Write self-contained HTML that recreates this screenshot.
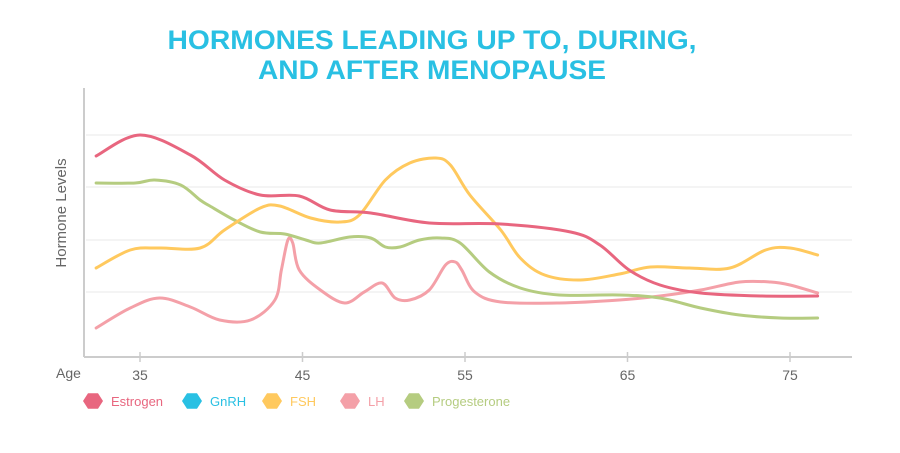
<!DOCTYPE html>
<html><head><meta charset="utf-8"><style>
html,body{margin:0;padding:0;background:#fff;width:900px;height:453px;overflow:hidden}
svg text{font-family:"Liberation Sans",sans-serif}
</style></head><body>
<svg id="chart" width="900" height="453">
<text x="432" y="49" text-anchor="middle" font-size="27" font-weight="bold" fill="#29C0E3" textLength="529" lengthAdjust="spacingAndGlyphs">HORMONES LEADING UP TO, DURING,</text>
<text x="432" y="79" text-anchor="middle" font-size="27" font-weight="bold" fill="#29C0E3" textLength="348" lengthAdjust="spacingAndGlyphs">AND AFTER MENOPAUSE</text>
<g id="grid"></g>
<line x1="84" y1="88" x2="84" y2="357" stroke="#ccc" stroke-width="2"/>
<line x1="84" y1="357" x2="852" y2="357" stroke="#ccc" stroke-width="2"/>
<text x="0" y="0" transform="translate(66,213) rotate(-90)" text-anchor="middle" font-size="15" fill="#666">Hormone Levels</text>
<text x="56" y="378" font-size="14" fill="#666">Age</text>
<g id="ticks"></g>
<g id="series"></g>
<g id="legend"></g>
</svg>
<script>
const tickAges=[35,45,55,65,75];
const gridLevels=[63,115,168,220];
const seriesNames=["Estrogen","GnRH","FSH","LH","Progesterone"];
const seriesColors=["#E8667F","#29C0E3","#FFC95E","#F4A0A8","#B5CC80"];
const estrogenAges=[32.3,35,38.1,40.2,42.4,44.8,46.7,49.2,52.8,57.2,61.5,63.3,65.1,67,69.5,73.2,76.7];
const estrogenLevels=[199,220,200,175,160,159,145,142,132,131,123,110,85,70,62,59,59];
const fshAges=[32.3,34.4,36.2,38.7,40.2,42.4,43.6,45.5,47.3,48.5,50.1,51.6,53.2,54.1,55.3,57.2,58.4,59.9,62.1,64.5,66.4,68.8,71.3,73.5,75,76.7];
const fshLevels=[87,105,107,107,125,147,149,137,133,140,175,192,197,190,160,125,97,80,75,81,88,87,87,105,107,100];
const lhAges=[32.3,34.4,36.2,38.1,39.9,41.8,43.3,43.7,44.1,44.4,44.8,46.1,47.6,48.8,49.9,50.7,51.6,52.8,53.8,54.4,54.8,55.6,57.2,60.8,64.5,67,69.5,71.9,73.8,75,76.7];
const lhLevels=[27,47,57,48,35,35,55,85,115,112,85,65,52,63,72,57,55,65,90,93,85,63,53,52,55,59,65,73,73,70,62];
const progAges=[32.3,34.7,35.9,37.5,38.7,39.3,40.8,42.4,43.9,45.2,46.1,47.9,49.2,50.1,51,52.2,53.5,54.7,56.5,58.4,60.8,64.5,67,69.5,71.9,74.4,76.7];
const progLevels=[172,172,175,170,155,149,135,123,121,115,112,118,117,108,108,115,117,112,83,67,60,60,57,47,40,37,37];

const NS="http://www.w3.org/2000/svg";
function xs(a){return 140+(a-35)*16.25;}
function ys(v){return 355-v;}
const grid=document.getElementById('grid');
gridLevels.forEach(g=>{
  const l=document.createElementNS(NS,'line');
  l.setAttribute('x1',86);l.setAttribute('x2',852);
  l.setAttribute('y1',ys(g));l.setAttribute('y2',ys(g));
  l.setAttribute('stroke','#f1f1f1');l.setAttribute('stroke-width',1.5);
  
  
  grid.appendChild(l);
});
const ticks=document.getElementById('ticks');
tickAges.forEach(a=>{
  const l=document.createElementNS(NS,'line');
  l.setAttribute('x1',xs(a));l.setAttribute('x2',xs(a));
  l.setAttribute('y1',352);l.setAttribute('y2',362);
  l.setAttribute('stroke','#ccc');l.setAttribute('stroke-width',1.5);
  
  
  ticks.appendChild(l);
  const t=document.createElementNS(NS,'text');
  t.setAttribute('x',xs(a));t.setAttribute('y',380);
  t.setAttribute('text-anchor','middle');t.setAttribute('font-size',14);t.setAttribute('fill','#666');
  t.textContent=a;
  
  
  ticks.appendChild(t);
});
function pathD(ages,levels){
  const p=ages.map((a,i)=>[xs(a),ys(levels[i])]);
  let d='M'+p[0][0]+','+p[0][1];
  for(let i=0;i<p.length-1;i++){
    const p0=p[i-1]||p[i],p1=p[i],p2=p[i+1],p3=p[i+2]||p2;
    const c1=[p1[0]+(p2[0]-p0[0])/6,p1[1]+(p2[1]-p0[1])/6];
    const c2=[p2[0]-(p3[0]-p1[0])/6,p2[1]-(p3[1]-p1[1])/6];
    d+=` C${c1[0]},${c1[1]} ${c2[0]},${c2[1]} ${p2[0]},${p2[1]}`;
  }
  return d;
}
const series=document.getElementById('series');
const defs=[[lhAges,lhLevels,3,'lh-line'],[progAges,progLevels,4,'progesterone-line'],[fshAges,fshLevels,2,'fsh-line'],[estrogenAges,estrogenLevels,0,'estrogen-line']];
defs.forEach(s=>{
  const p=document.createElementNS(NS,'path');
  p.setAttribute('d',pathD(s[0],s[1]));
  p.setAttribute('fill','none');p.setAttribute('stroke',seriesColors[s[2]]);
  p.setAttribute('stroke-width',3);p.setAttribute('stroke-linecap','round');
  
  
  series.appendChild(p);
});
const legend=document.getElementById('legend');
const legX=[93,192,272,350,414];
seriesNames.forEach((n,i)=>{
  const cx=legX[i],cy=401,r=10;
  const g=document.createElementNS(NS,'g');
  
  
  const h=document.createElementNS(NS,'polygon');
  const pts=[];
  for(let k=0;k<6;k++){const an=Math.PI/3*k;pts.push((cx+r*Math.cos(an))+','+(cy+r*0.9*Math.sin(an)));}
  h.setAttribute('points',pts.join(' '));h.setAttribute('fill',seriesColors[i]);
  
  
  g.appendChild(h);
  const t=document.createElementNS(NS,'text');
  t.setAttribute('x',cx+18);t.setAttribute('y',406);t.setAttribute('font-size',13);
  t.setAttribute('fill',seriesColors[i]);t.textContent=n;
  
  
  g.appendChild(t);
  legend.appendChild(g);
});
</script>
</body></html>
